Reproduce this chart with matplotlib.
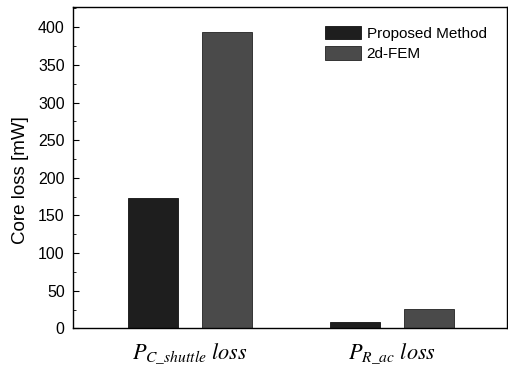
import numpy as np
import matplotlib
matplotlib.use("Agg")
import matplotlib.pyplot as plt
from matplotlib.ticker import MultipleLocator

plt.rcParams['font.family'] = ['Liberation Sans', 'DejaVu Sans']
plt.rcParams['mathtext.fontset'] = 'stix'

categories = [r'$P_{C\_shuttle}\ loss$', r'$P_{R\_ac}\ loss$']
proposed = [173, 8]
fem = [394, 26]

x = np.arange(len(categories))
w = 0.245
off = 0.183

fig = plt.figure(figsize=(5.08, 3.65), dpi=100)
ax = fig.add_axes([0.1437, 0.1005, 0.854, 0.8805])

ax.bar(x - off, proposed, w, color='#1e1e1e', edgecolor='#111111', linewidth=0.6,
       label='Proposed Method')
ax.bar(x + off, fem, w, color='#4a4a4a', edgecolor='#222222', linewidth=0.6,
       label='2d-FEM')

ax.set_xlim(-0.579, 1.569)
ax.set_ylim(0, 427)
ax.set_xticks(x)
ax.set_xticklabels(categories, fontsize=16)
ax.tick_params(axis='x', length=0, pad=9)
ax.yaxis.set_major_locator(MultipleLocator(50))
ax.yaxis.set_minor_locator(MultipleLocator(25))
ax.tick_params(axis='y', which='major', direction='in', length=4, labelsize=11.5,
               pad=6, right=False)
ax.tick_params(axis='y', which='minor', direction='in', length=2.5, right=False)
ax.set_ylabel('Core loss [mW]', fontsize=13.5)
ax.yaxis.set_label_coords(-0.102, 0.46)

for s in ax.spines.values():
    s.set_linewidth(1.0)

ax.legend(loc='upper right', fontsize=11, frameon=False, handlelength=2.4,
          handleheight=1.0, handletextpad=0.35, labelspacing=0.35,
          bbox_to_anchor=(0.985, 0.985))

fig.savefig('out.png', dpi=100)
